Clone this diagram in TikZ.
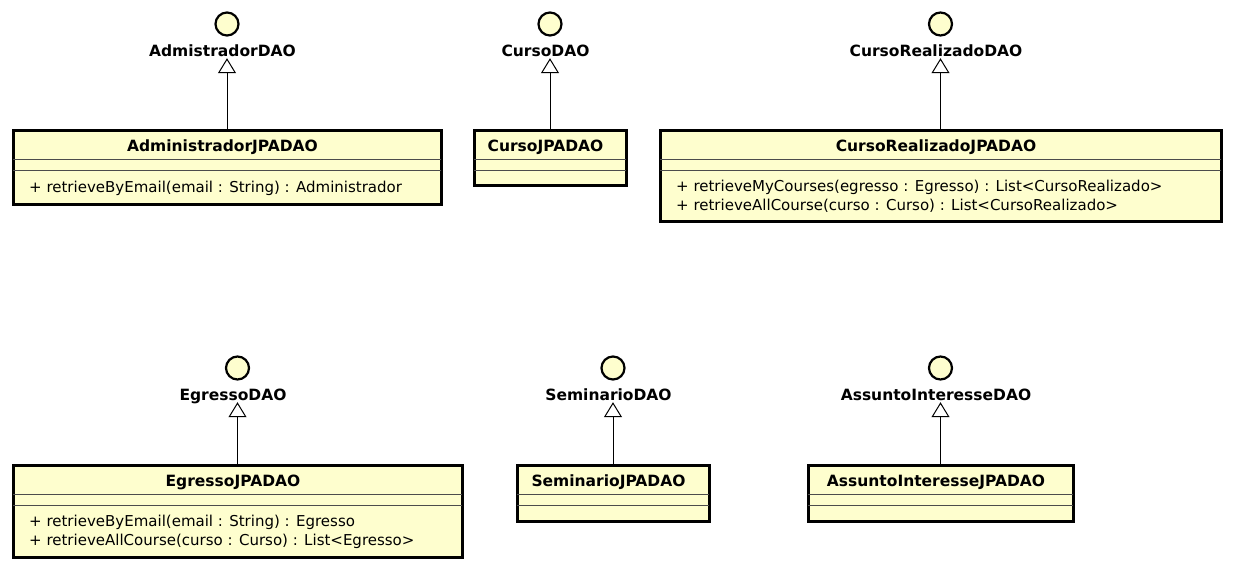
\documentclass[tikz,border=0pt]{standalone}
\usepackage{fontspec}
\setmainfont{DejaVu Sans}
\usetikzlibrary{arrows.meta,positioning}

\definecolor{umlfill}{HTML}{FEFECE}
\tikzset{
    classbox/.style={draw, line width=3pt, fill=umlfill, anchor=north west, inner sep=0pt, outer sep=0pt},
    classname/.style={anchor=base, inner sep=1pt, font=\bfseries\fontsize{15.5}{18}\selectfont},
    sepline/.style={line width=1pt, draw=black!70},
    method/.style={anchor=base west, inner sep=1pt, font=\fontsize{15}{18}\selectfont},
    ifacedot/.style={circle, draw, line width=2.2pt, fill=umlfill, minimum size=23pt, inner sep=0pt},
    ifacename/.style={anchor=base, inner sep=2pt, text depth=0pt, font=\bfseries\fontsize{15.5}{18}\selectfont},
    realizes/.style={-{Triangle[open, width=18pt, length=15pt]}, line width=1pt},
}

\begin{document}
\begin{tikzpicture}[x=1pt, y=-1pt]
    \fill[white] (0,0) rectangle (1234,570);
    \useasboundingbox (0,0) rectangle (1234,570);
    \def \titledrop {21.5} % baseline of the class name below the box top
    \def \nudge {-4.5} % names sit a little left of the centre line
    % id / interface / class / left / top / width / height / baseline of interface name
    \foreach \id/\iname/\cname/\bx/\by/\bw/\bh/\ly in {
        adm/AdmistradorDAO/AdministradorJPADAO/13/130/428/74/56,
        cur/CursoDAO/CursoJPADAO/474/130/152/55/56,
        cre/CursoRealizadoDAO/CursoRealizadoJPADAO/660/130/561/91/56,
        egr/EgressoDAO/EgressoJPADAO/13/465/449/92/400,
        sem/SeminarioDAO/SeminarioJPADAO/517/465/192/56/400,
        ass/AssuntoInteresseDAO/AssuntoInteresseJPADAO/808/465/265/56/400}
    {
        \node[classbox, minimum width=\bw pt, minimum height=\bh pt] (\id) at (\bx,\by) {};
        \node[classname] (\id name) at ([xshift=\nudge pt, yshift=-\titledrop pt]\id.north) {\cname};
        \draw[sepline] ([yshift=-29pt]\id.north west) -- ([yshift=-29pt]\id.north east);
        \draw[sepline] ([yshift=-40.5pt]\id.north west) -- ([yshift=-40.5pt]\id.north east);
        \node[ifacename, xshift=\nudge pt] (\id lbl) at (\id.north |- 0,\ly) {\iname};
        \node[ifacedot] (\id dot) at ([xshift=-\nudge pt, yshift=32pt]\id lbl.base) {};
        \draw[realizes] (\id) -- (\id.north |- \id lbl.south);
    }
    \node[method] (admm1) at ([xshift=15pt, yshift=-62pt]adm.north west)
        {+ retrieveByEmail(email : String) : Administrador};
    \node[method] (crem1) at ([xshift=15pt, yshift=-61.5pt]cre.north west)
        {+ retrieveMyCourses(egresso : Egresso) : List<CursoRealizado>};
    \node[method] (crem2) at ([xshift=15pt, yshift=-80pt]cre.north west)
        {+ retrieveAllCourse(curso : Curso) : List<CursoRealizado>};
    \node[method] (egrm1) at ([xshift=15pt, yshift=-61.5pt]egr.north west)
        {+ retrieveByEmail(email : String) : Egresso};
    \node[method] (egrm2) at ([xshift=15pt, yshift=-80pt]egr.north west)
        {+ retrieveAllCourse(curso : Curso) : List<Egresso>};
\end{tikzpicture}
\end{document}
